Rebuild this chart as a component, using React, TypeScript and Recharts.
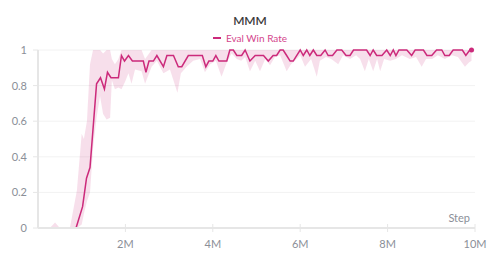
import React from "react";
import {
  ComposedChart,
  Line,
  Area,
  XAxis,
  YAxis,
  CartesianGrid,
  Legend,
  Label,
} from "recharts";

// Step in millions
const lineSteps = [
  0.87, 1.02, 1.11, 1.19, 1.34, 1.43, 1.52, 1.59, 1.67, 1.84, 1.91, 1.98, 2.07,
  2.16, 2.41, 2.47, 2.54, 2.64, 2.72, 2.87, 2.95, 3.1, 3.21, 3.29, 3.44, 3.76,
  3.84, 3.91, 4.0, 4.07, 4.14, 4.32, 4.39, 4.47, 4.55, 4.66, 4.74, 4.85, 4.97,
  5.16, 5.27, 5.38, 5.46, 5.54, 5.61, 5.69, 5.77, 5.84, 6.0, 6.07, 6.15, 6.22,
  6.3, 6.38, 6.47, 6.57, 6.64, 6.74, 6.84, 6.95, 7.05, 7.14, 7.22, 7.52, 7.6,
  7.67, 7.75, 7.87, 7.98, 8.06, 8.13, 8.19, 8.26, 8.44, 8.55, 8.63, 8.82, 8.9,
  9.01, 9.12, 9.24, 9.31, 9.41, 9.5, 9.71, 9.79, 9.88, 9.92,
];
const lineValues = [
  0, 0.12, 0.28, 0.34, 0.81, 0.844, 0.781, 0.875, 0.844, 0.844, 0.969, 0.938,
  0.969, 0.938, 0.938, 0.875, 0.938, 0.938, 0.969, 0.906, 0.969, 0.969, 0.906,
  0.906, 0.969, 0.969, 0.906, 0.938, 0.938, 0.969, 0.938, 0.938, 1, 1, 0.969,
  0.969, 1, 0.938, 0.969, 0.969, 0.938, 0.969, 0.969, 1, 1, 0.969, 0.938,
  0.938, 1, 0.969, 1, 0.969, 1, 0.969, 0.969, 1, 0.969, 0.969, 1, 1, 0.969,
  0.969, 1, 1, 0.969, 1, 0.969, 0.969, 1, 0.969, 1, 0.969, 1, 1, 0.969, 1, 1,
  0.969, 0.969, 1, 1, 0.969, 0.969, 1, 1, 0.969, 1, 1,
];

const bandSteps = [
  0.27, 0.39, 0.5, 0.73, 0.89, 1.0, 1.05, 1.12, 1.19, 1.26, 1.34, 1.42, 1.49,
  1.57, 1.65, 1.69, 1.76, 1.84, 1.91, 1.99, 2.07, 2.14, 2.22, 2.37, 2.45, 2.6,
  2.72, 2.87, 3.02, 3.19, 3.27, 3.4, 3.55, 3.71, 3.82, 3.94, 4.07, 4.2, 4.32,
  4.43, 4.55, 4.65, 4.74, 4.85, 4.97, 5.08, 5.2, 5.31, 5.42, 5.54, 5.69, 5.79,
  5.88, 6.0, 6.11, 6.25, 6.38, 6.45, 6.59, 6.71, 6.87, 6.98, 7.14, 7.28, 7.37,
  7.48, 7.57, 7.67, 7.76, 7.83, 7.92, 8.06, 8.19, 8.33, 8.51, 8.65, 8.78, 8.88,
  9.02, 9.15, 9.31, 9.47, 9.61, 9.77, 9.86, 9.92,
];
const bandLow = [
  0, 0, 0, 0, 0, 0.02, 0.08, 0.15, 0.2, 0.45, 0.62, 0.74, 0.64, 0.61, 0.62,
  0.83, 0.78, 0.79, 0.78, 0.82, 0.87, 0.81, 0.89, 0.88, 0.81, 0.906, 0.94,
  0.87, 0.89, 0.76, 0.87, 0.906, 0.94, 0.95, 0.875, 0.92, 0.94, 0.85, 0.93,
  0.98, 0.95, 0.94, 0.96, 0.88, 0.94, 0.88, 0.95, 0.915, 0.96, 0.97, 0.88,
  0.92, 0.94, 0.97, 0.906, 0.95, 0.85, 0.94, 0.96, 0.95, 0.92, 0.97, 0.95,
  0.97, 0.95, 0.88, 0.95, 0.88, 0.95, 0.88, 0.95, 0.94, 0.95, 0.97, 0.95, 0.96,
  0.906, 0.95, 0.95, 0.97, 0.95, 0.97, 0.96, 0.906, 0.93, 0.94,
];
const bandHigh = [
  0, 0.031, 0, 0, 0.21, 0.53, 0.5, 0.6, 0.92, 1, 1, 1, 0.98, 1, 1, 0.95, 0.92,
  0.95, 1, 1, 1, 1, 1, 1, 0.95, 1, 1, 1, 1, 1, 1, 1, 1, 1, 1, 1, 1, 1, 1, 1, 1,
  1, 1, 1, 1, 1, 1, 1, 1, 1, 1, 1, 1, 1, 1, 1, 1, 1, 1, 1, 1, 1, 1, 1, 1, 1, 1,
  1, 1, 1, 1, 1, 1, 1, 1, 1, 1, 1, 1, 1, 1, 1, 1, 1, 1, 1,
];

const xTicks = [2, 4, 6, 8, 10];
const yTicks = [0, 0.2, 0.4, 0.6, 0.8, 1];
const chartTitle = "MMM";
const seriesName = "Eval Win Rate";
const xAxisName = "Step";

const lineData = lineSteps.map((s, i) => ({ step: s, winRate: lineValues[i] }));
const bandData = bandSteps.map((s, i) => ({
  step: s,
  range: [bandLow[i], bandHigh[i]],
}));

const LINE = "#cc2a7b";
const AXIS = "#e6e6e6";
const TEXT = "#8b8f98";
const FONT = "Lato, 'Noto Sans', sans-serif";

const XTick = (props: any) => {
  const { x, y, payload } = props;
  return (
    <g>
      <line x1={x} x2={x} y1={y - 16} y2={y - 8} stroke={AXIS} strokeWidth={1} />
      <text
        x={x}
        y={y}
        dy="0.71em"
        textAnchor="middle"
        fill={TEXT}
        fontSize={11}
        fontFamily={FONT}
      >
        {`${payload.value}M`}
      </text>
    </g>
  );
};

const LegendContent = () => (
  <div
    style={{
      display: "flex",
      justifyContent: "center",
      alignItems: "center",
      height: 14,
      fontFamily: FONT,
      fontSize: 10,
      color: "#d4458c",
    }}
  >
    <span
      style={{
        display: "inline-block",
        width: 8,
        height: 2,
        background: LINE,
        marginRight: 5,
      }}
    />
    <span>{seriesName}</span>
  </div>
);

const EndDot = (props: any) => {
  const { cx, cy, index } = props;
  if (index !== lineData.length - 1) return <g key={`d${index}`} />;
  return <circle key={`d${index}`} cx={cx} cy={cy} r={2.5} fill={LINE} stroke="none" />;
};

export default function App() {
  return (
    <div
      style={{
        position: "absolute",
        left: 0,
        top: 0,
        width: 500,
        height: 262,
        background: "#fff",
        fontFamily: FONT,
      }}
    >
      <div
        style={{
          position: "absolute",
          top: 13,
          left: 0,
          width: 500,
          textAlign: "center",
          fontSize: 12,
          fontWeight: 600,
          color: "#3a3a3a",
          fontFamily: FONT,
          lineHeight: "16px",
        }}
      >
        {chartTitle}
      </div>
      <ComposedChart
        width={500}
        height={262}
        margin={{ top: 36, right: 25, bottom: 4, left: 0 }}
      >
        <CartesianGrid vertical={false} stroke="#f2f2f2" />
        <XAxis
          dataKey="step"
          type="number"
          domain={[0, 10]}
          ticks={xTicks}
          tickSize={0}
          tickMargin={12}
          tick={<XTick />}
          tickLine={false}
          axisLine={{ stroke: AXIS, strokeWidth: 2 }}
          height={30}
          allowDataOverflow
        >
          <Label
            content={(p: any) => {
              const vb = p.viewBox || {};
              return (
                <text
                  x={(vb.x || 0) + (vb.width || 0) - 5}
                  y={(vb.y || 0) - 6}
                  textAnchor="end"
                  fill={TEXT}
                  fontSize={11}
                  fontFamily={FONT}
                >
                  {xAxisName}
                </text>
              );
            }}
          />
        </XAxis>
        <YAxis
          type="number"
          domain={[0, 1]}
          ticks={yTicks}
          width={38}
          tickSize={5}
          tickMargin={6}
          tickLine={{ stroke: AXIS }}
          axisLine={{ stroke: AXIS, strokeWidth: 2 }}
          tick={{ fill: TEXT, fontSize: 11, fontFamily: FONT }}
          tickFormatter={(v: number) => `${v}`}
        />
        <Legend
          verticalAlign="top"
          align="center"
          content={<LegendContent />}
          wrapperStyle={{ top: 31, left: 0, width: 500 }}
        />
        <Area
          data={bandData}
          dataKey="range"
          type="linear"
          stroke="none"
          fill={LINE}
          fillOpacity={0.15}
          isAnimationActive={false}
          legendType="none"
          activeDot={false}
        />
        <Line
          data={lineData}
          dataKey="winRate"
          name={seriesName}
          type="linear"
          stroke={LINE}
          strokeWidth={1.5}
          dot={<EndDot />}
          activeDot={false}
          isAnimationActive={false}
        />
      </ComposedChart>
    </div>
  );
}
